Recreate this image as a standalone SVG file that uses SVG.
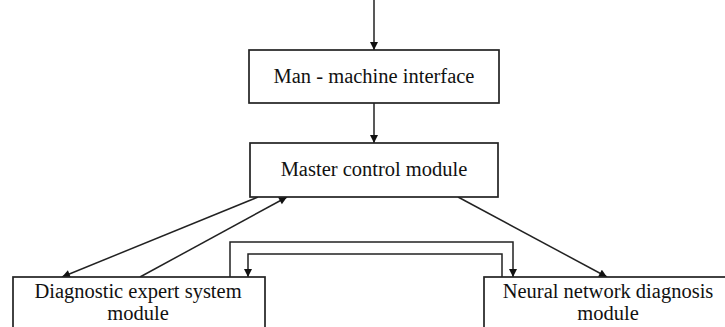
<svg xmlns="http://www.w3.org/2000/svg" width="725" height="327" viewBox="0 0 725 327">
<style>
.box{fill:#fff;stroke:#222;stroke-width:1.7}
.t{font-family:"Liberation Serif","Times New Roman",serif;font-size:20.5px;fill:#111;text-anchor:middle}
.c{fill:none;stroke:#222;stroke-width:1.5}
</style>
<defs>
<marker id="ah" viewBox="0 0 10 10" refX="10" refY="5" markerWidth="9" markerHeight="8" markerUnits="userSpaceOnUse" orient="auto">
<path d="M0,0 L10,5 L0,10 z" fill="#111"/>
</marker>
</defs>
<g id="connectors">
<path class="c" d="M374,0 L374,50" marker-end="url(#ah)"/>
<path class="c" d="M374,103 L374,143" marker-end="url(#ah)"/>
<path class="c" d="M258,197 L62,277" marker-end="url(#ah)"/>
<path class="c" d="M140,277 L287,197" marker-end="url(#ah)"/>
<path class="c" d="M458,197 L607,277" marker-end="url(#ah)"/>
<path class="c" d="M230,277 L230,242 L513,242 L513,277" marker-end="url(#ah)"/>
<path class="c" d="M502,277 L502,254 L248,254 L248,277" marker-end="url(#ah)"/>
</g>
<g id="man-machine">
<rect class="box" x="249" y="50" width="250" height="53"/>
<text class="t" x="374" y="83">Man - machine interface</text>
</g>
<g id="master">
<rect class="box" x="250" y="143" width="248" height="54"/>
<text class="t" x="374" y="176">Master control module</text>
</g>
<g id="expert">
<rect class="box" x="13" y="277" width="252" height="60"/>
<text class="t" x="138" y="298">Diagnostic expert system</text>
<text class="t" x="138" y="320">module</text>
</g>
<g id="neural">
<rect class="box" x="484" y="277" width="250" height="60"/>
<text class="t" x="608" y="298">Neural network diagnosis</text>
<text class="t" x="608" y="320">module</text>
</g>
</svg>
